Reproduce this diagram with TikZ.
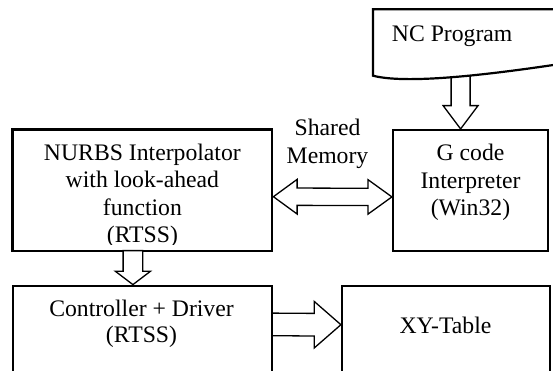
\documentclass[tikz,border=0pt]{standalone}
\usepackage{fontspec}
\setmainfont{Liberation Serif}
\usetikzlibrary{calc}
\begin{document}
\begin{tikzpicture}[x=1pt,y=-1pt,
  box/.style={draw,line width=2.2pt,rectangle,inner sep=0pt,fill=white},
  txt/.style={anchor=base,inner sep=0pt,font=\fontsize{23.7}{27.5}\selectfont},
  barrow/.style={draw,line width=1.3pt,fill=white,line join=miter}]
\useasboundingbox (0,0) rectangle (553,370);
\clip (0,0) rectangle (553,370);
% boxes
\node[box,minimum width=259.8pt,minimum height=121.5pt] (nurbs) at (142.4,190.25) {};
\node[box,minimum width=155pt,minimum height=121pt] (gcode) at (470.5,190.5) {};
\node[box,minimum width=259pt,minimum height=121.3pt] (ctrl) at (142.5,346.35) {};
\node[box,minimum width=208pt,minimum height=121pt] (xy) at (446,346.5) {};
% texts
\begin{scope}
\clip (nurbs.north west) rectangle ($(nurbs.south east)+(0,-7.5)$);
\node[txt] (n1) at (142.4,160) {NURBS Interpolator};
\node[txt] (n2) at (142.4,187.5) {with look-ahead};
\node[txt] (n3) at (142.4,215) {function};
\node[txt] (n4) at (142.4,242.5) {(RTSS)};
\end{scope}
\node[txt] (g1) at (470.5,160.5) {G code};
\node[txt] (g2) at (470.5,188) {Interpreter};
\node[txt] (g3) at (470.5,215.5) {(Win32)};
\node[txt] (s1) at (327.5,135.7) {Shared};
\node[txt] (s2) at (327.5,163.3) {Memory};
\node[txt] (c1) at (141.5,316) {Controller + Driver};
\node[txt] (c2) at (141.5,342.7) {(RTSS)};
\node[txt] (x1) at (445.5,333) {XY-Table};
% arrow NC -> G code
\coordinate (t1) at ($(gcode.north west)+(68.7,0)$);
\draw[barrow] (t1) -- ++(-17.5,-23.3) -- ++(8,0) -- ++(0,-40) -- ++(19,0) -- ++(0,40) -- ++(8,0) -- cycle;
% NC program document
\draw[line width=2.2pt,fill=white] (373,9.3) -- (560,9.3) -- (560,64)
  .. controls (480,76) and (405,84) .. (373,75.7) -- cycle;
\node[txt,anchor=base west] (nc) at (391.7,41.7) {NC Program};
% arrow NURBS -> Controller
\coordinate (t2) at ($(ctrl.north west)+(121,0)$);
\draw[barrow] (t2) -- ++(-17.5,-13.3) -- ++(7.7,0) -- ++(0,-20.7) -- ++(19.6,0) -- ++(0,20.7) -- ++(7.7,0) -- cycle;
% double arrow NURBS <-> G code
\coordinate (a) at ($(nurbs.north east)+(0,68.3)$);
\coordinate (b) at ($(gcode.north west)+(0,68)$);
\draw[barrow] (a) -- ++(23.7,-17.3) -- ++(0,8.65) -- ($(b)+(-24,-8.65)$) -- ++(0,-8.65) -- (b)
  -- ++(-24,17.3) -- ++(0,-8.65) -- ($(a)+(23.7,8.65)$) -- ++(0,8.65) -- cycle;
% arrow Controller -> XY-Table
\coordinate (c) at ($(ctrl.north east)+(0,39.8)$);
\coordinate (d) at ($(xy.north west)+(0,39.8)$);
\draw[barrow] ($(c)+(0,-11.3)$) -- ($(d)+(-26.7,-11.3)$) -- ++(0,-12) -- (d)
  -- ++(-26.7,23.3) -- ++(0,-12) -- ($(c)+(0,11.3)$);
\end{tikzpicture}
\end{document}
